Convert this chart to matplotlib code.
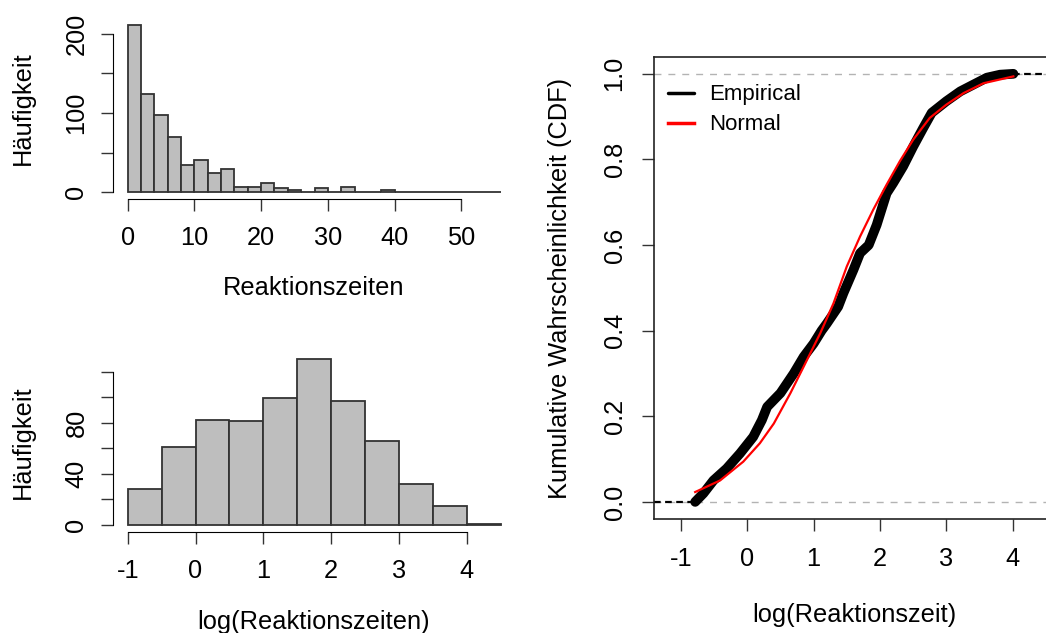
import numpy as np
import matplotlib
matplotlib.use("Agg")
import matplotlib.pyplot as plt

# histogram of raw reaction times
rt_breaks = np.arange(0, 58, 2)
rt_counts = [211, 124, 98, 70, 34, 41, 24, 29, 7, 7, 12, 6, 3, 1,
             5, 1, 7, 1, 1, 3, 1, 1, 0, 0, 0, 1, 0, 1]

# histogram of log reaction times
log_breaks = np.arange(-1, 5.0, 0.5)
log_counts = [28, 61, 82, 81, 99, 130, 97, 66, 32, 15, 1]

# empirical CDF
ecdf_x = [-0.785, -0.66, -0.51, -0.31, -0.11, 0.09, 0.22, 0.30, 0.50, 0.70,
          0.85, 1.00, 1.12, 1.20, 1.37, 1.45, 1.60, 1.70, 1.83, 1.95,
          2.10, 2.20, 2.35, 2.50, 2.65, 2.78, 3.00, 3.21, 3.41, 3.61, 3.81, 4.01]
ecdf_y = [0.0, 0.02, 0.05, 0.078, 0.113, 0.152, 0.191, 0.222, 0.254, 0.30,
          0.339, 0.37, 0.40, 0.417, 0.456, 0.488, 0.542, 0.581, 0.60, 0.647,
          0.721, 0.745, 0.784, 0.83, 0.873, 0.909, 0.936, 0.959, 0.975, 0.991, 0.998, 1.0]

# fitted normal CDF
norm_x = [-0.785, -0.41, -0.06, 0.19, 0.40, 0.65, 0.85, 1.10, 1.30, 1.50,
          1.70, 1.90, 2.10, 2.30, 2.50, 2.75, 3.00, 3.26, 3.56, 4.01]
norm_y = [0.023, 0.05, 0.094, 0.137, 0.183, 0.254, 0.316, 0.394, 0.464, 0.55,
          0.62, 0.683, 0.741, 0.796, 0.846, 0.897, 0.928, 0.955, 0.978, 0.994]

plt.rcParams['font.family'] = ['Liberation Sans', 'DejaVu Sans']
plt.rcParams['font.size'] = 18.3
plt.rcParams['axes.unicode_minus'] = False

W, H = 1046, 633
fig = plt.figure(figsize=(W / 100, H / 100), dpi=100)


def px(x0, y0, x1, y1):
    # pixel box -> figure rect
    return [x0 / W, 1 - y1 / H, (x1 - x0) / W, (y1 - y0) / H]


def ftext(x, y, s, rot=0):
    fig.text(x / W, 1 - y / H, s, ha='center', va='center', rotation=rot)


def rhist(ax, breaks, counts, xticks, yticks, ylabs):
    ax.bar(breaks[:-1], counts, width=np.diff(breaks), align='edge',
           color='#bebebe', edgecolor='#333333', linewidth=1.3)
    span = breaks[-1] - breaks[0]
    ax.set_xlim(breaks[0] - 0.04 * span, breaks[-1] + 0.04 * span)
    ax.set_ylim(-0.04 * max(counts), 1.04 * max(counts))
    for s in ['top', 'right']:
        ax.spines[s].set_visible(False)
    ax.spines['left'].set_bounds(yticks[0], yticks[-1])
    ax.spines['bottom'].set_bounds(xticks[0], xticks[-1])
    ax.set_xticks(xticks)
    ax.set_yticks(yticks)
    ax.set_yticklabels(ylabs, rotation=90, va='center')
    ax.tick_params(length=8.5, width=1.0, color='#333333')
    ax.tick_params(axis='x', pad=11)
    ax.tick_params(axis='y', pad=9)


ax1 = fig.add_axes(px(112.8, 18.3, 516.2, 199))
rhist(ax1, rt_breaks, rt_counts, [0, 10, 20, 30, 40, 50],
      [0, 50, 100, 150, 200], ['0', '', '100', '', '200'])
ftext(314, 288, 'Reaktionszeiten')
ftext(23, 108, 'Häufigkeit', 90)

ax2 = fig.add_axes(px(112.8, 352.1, 515.5, 531.7))
rhist(ax2, log_breaks, log_counts, [-1, 0, 1, 2, 3, 4],
      [0, 20, 40, 60, 80, 100, 120], ['0', '', '40', '', '80', '', ''])
ftext(314, 622, 'log(Reaktionszeiten)')
ftext(23, 442, 'Häufigkeit', 90)

ax3 = fig.add_axes(px(653.7, 56.7, 1054.5, 519))
ax3.axhline(0, color='#b3b3b3', lw=1.0, ls=(0, (5, 5)))
ax3.axhline(1, color='#b3b3b3', lw=1.0, ls=(0, (5, 5)))
ax3.plot([-1.41, ecdf_x[0]], [0, 0], color='black', lw=1.6, ls=(0, (3, 2)))
ax3.plot([ecdf_x[-1], 4.63], [1, 1], color='black', lw=1.6, ls=(0, (3, 2)))
ax3.plot(ecdf_x, ecdf_y, color='black', lw=7, solid_capstyle='round',
         solid_joinstyle='round', label='Empirical')
ax3.plot(norm_x, norm_y, color='red', lw=1.6, label='Normal')
ax3.set_xlim(-1.41, 4.63)
ax3.set_ylim(-0.04, 1.04)
ax3.set_xticks([-1, 0, 1, 2, 3, 4])
ax3.set_yticks([0, 0.2, 0.4, 0.6, 0.8, 1.0])
ax3.set_yticklabels(['0.0', '0.2', '0.4', '0.6', '0.8', '1.0'], rotation=90, va='center')
ax3.tick_params(length=8.5, width=1.0, color='#333333')
ax3.tick_params(axis='x', pad=12)
ax3.tick_params(axis='y', pad=11)
for s in ax3.spines.values():
    s.set_linewidth(1.2)
    s.set_color('#222222')
leg = ax3.legend(loc='upper left', frameon=False, fontsize=16,
                 handlelength=1.2, handletextpad=0.65, labelspacing=0.4,
                 bbox_to_anchor=(0.035, 0.94), borderaxespad=0, borderpad=0)
for line in leg.get_lines():
    line.set_linewidth(2.5)
ftext(854, 615, 'log(Reaktionszeit)')
ftext(560, 288, 'Kumulative Wahrscheinlichkeit (CDF)', 90)

fig.savefig('out.png', dpi=100)
